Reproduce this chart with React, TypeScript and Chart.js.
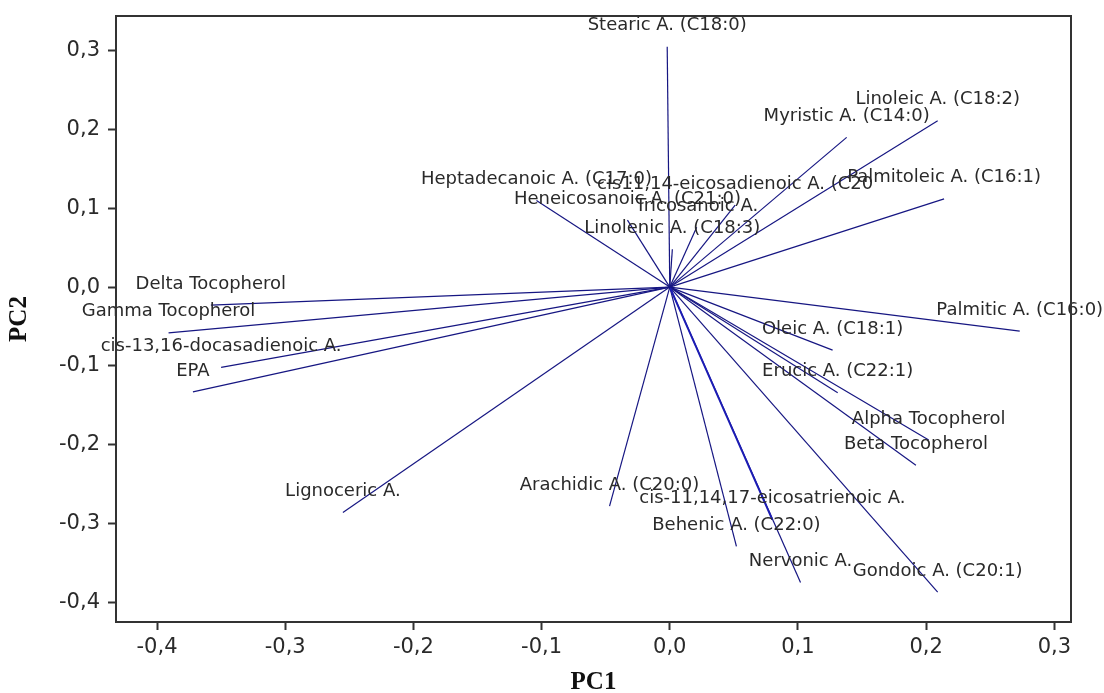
import React, { useEffect, useRef } from "react";
import { Chart, registerables } from "chart.js";

Chart.register(...registerables);

// Variable names (loadings), PC1 and PC2 values
const variables: string[] = [
  "Stearic A. (C18:0)",
  "Myristic A. (C14:0)",
  "Linoleic A. (C18:2)",
  "Palmitoleic A. (C16:1)",
  "cis11,14-eicosadienoic A. (C20",
  "Tricosanoic A.",
  "Linolenic A. (C18:3)",
  "Heneicosanoic A. (C21:0)",
  "Heptadecanoic A. (C17:0)",
  "Delta Tocopherol",
  "Gamma Tocopherol",
  "cis-13,16-docasadienoic A.",
  "EPA",
  "Lignoceric A.",
  "Arachidic A. (C20:0)",
  "cis-11,14,17-eicosatrienoic A.",
  "Behenic A. (C22:0)",
  "Nervonic A.",
  "Gondoic A. (C20:1)",
  "Beta Tocopherol",
  "Alpha Tocopherol",
  "Erucic A. (C22:1)",
  "Oleic A. (C18:1)",
  "Palmitic A. (C16:0)",
];

const pc1: number[] = [
  -0.002, 0.138, 0.209, 0.214, 0.051, 0.021, 0.002, -0.033, -0.104,
  -0.358, -0.391, -0.35, -0.372, -0.255, -0.047, 0.08, 0.052, 0.102,
  0.209, 0.192, 0.202, 0.131, 0.127, 0.273,
];

const pc2: number[] = [
  0.305, 0.19, 0.211, 0.112, 0.104, 0.076, 0.048, 0.085, 0.11,
  -0.023, -0.058, -0.102, -0.133, -0.286, -0.278, -0.295, -0.329, -0.375,
  -0.387, -0.226, -0.194, -0.134, -0.08, -0.056,
];

const xTicks: number[] = [-0.4, -0.3, -0.2, -0.1, 0.0, 0.1, 0.2, 0.3];
const yTicks: number[] = [-0.4, -0.3, -0.2, -0.1, 0.0, 0.1, 0.2, 0.3];

const X_MIN = -0.432;
const X_MAX = 0.313;
const Y_MIN = -0.425;
const Y_MAX = 0.344;

const LINE_COLOR = "rgb(22,22,130)";
const TEXT_COLOR = "#2a2a2a";
const EMPHASIZED = "cis-11,14,17-eicosatrienoic A.";

const fmt = (v: number) => {
  const r = Math.abs(v) < 1e-9 ? 0 : v;
  return r.toFixed(1).replace(".", ",");
};

const labelPlugin = {
  id: "loadingLabels",
  afterDatasetsDraw(chart: any) {
    const { ctx, scales } = chart;
    const xs = scales.x;
    const ys = scales.y;
    ctx.save();
    ctx.font = "18px 'DejaVu Sans'";
    ctx.fillStyle = TEXT_COLOR;
    ctx.textAlign = "center";
    ctx.textBaseline = "middle";
    variables.forEach((name, i) => {
      const px = xs.getPixelForValue(pc1[i]);
      const py = ys.getPixelForValue(pc2[i]);
      ctx.fillText(name, px, py - 21);
    });
    ctx.restore();
  },
};

const framePlugin = {
  id: "frame",
  afterDraw(chart: any) {
    const { ctx, chartArea } = chart;
    ctx.save();
    ctx.strokeStyle = "#333";
    ctx.lineWidth = 2;
    ctx.strokeRect(
      chartArea.left,
      chartArea.top,
      chartArea.right - chartArea.left,
      chartArea.bottom - chartArea.top
    );
    ctx.restore();
  },
};

export default function App() {
  const canvasRef = useRef<HTMLCanvasElement | null>(null);

  useEffect(() => {
    if (!canvasRef.current) return;
    const datasets = variables.map((name, i) => ({
      label: name,
      data: [
        { x: 0, y: 0 },
        { x: pc1[i], y: pc2[i] },
      ],
      showLine: true,
      borderColor: name === EMPHASIZED ? "rgb(28,28,180)" : LINE_COLOR,
      borderWidth: name === EMPHASIZED ? 2 : 1.2,
      pointRadius: 0,
      pointHoverRadius: 0,
    }));

    const chart = new Chart(canvasRef.current, {
      type: "scatter",
      data: { datasets },
      plugins: [labelPlugin, framePlugin],
      options: {
        animation: false,
        responsive: false,
        devicePixelRatio: 1,
        layout: { padding: { left: 0, top: 16, right: 33, bottom: 0 } },
        plugins: {
          legend: { display: false },
          tooltip: { enabled: false },
        },
        scales: {
          x: {
            type: "linear",
            min: X_MIN,
            max: X_MAX,
            afterBuildTicks: (scale: any) => {
              scale.ticks = xTicks.map((v) => ({ value: v }));
            },
            afterFit: (scale: any) => {
              scale.height = 71;
              scale.paddingLeft = 0;
              scale.paddingRight = 0;
            },
            grid: {
              display: true,
              drawOnChartArea: false,
              drawTicks: true,
              tickLength: 8,
              tickColor: "#333",
              tickWidth: 2,
            },
            border: { display: true, color: "#333", width: 2 },
            ticks: {
              padding: 5,
              color: TEXT_COLOR,
              font: { family: "'DejaVu Sans'", size: 21 },
              callback: (v: any) => fmt(Number(v)),
              maxRotation: 0,
              autoSkip: false,
            },
            title: {
              display: true,
              text: "PC1",
              color: "#111",
              font: { family: "'Liberation Serif'", size: 25, weight: "bold", lineHeight: 0.8 },
              padding: { top: 0, bottom: 0 },
            },
          },
          y: {
            type: "linear",
            min: Y_MIN,
            max: Y_MAX,
            afterBuildTicks: (scale: any) => {
              scale.ticks = yTicks.map((v) => ({ value: v }));
            },
            afterFit: (scale: any) => {
              scale.width = 116;
              scale.paddingTop = 0;
              scale.paddingBottom = 0;
            },
            grid: {
              display: true,
              drawOnChartArea: false,
              drawTicks: true,
              tickLength: 8,
              tickColor: "#333",
              tickWidth: 2,
            },
            border: { display: true, color: "#333", width: 2 },
            ticks: {
              padding: 8,
              color: TEXT_COLOR,
              font: { family: "'DejaVu Sans'", size: 21 },
              callback: (v: any) => fmt(Number(v)),
              autoSkip: false,
            },
            title: {
              display: true,
              text: "PC2",
              color: "#111",
              font: { family: "'Liberation Serif'", size: 25, weight: "bold", lineHeight: 0.8 },
              padding: { top: 10, bottom: 0 },
            },
          },
        },
      },
    } as any);

    return () => chart.destroy();
  }, []);

  return (
    <div
      style={{
        position: "absolute",
        left: 0,
        top: 0,
        width: 1104,
        height: 693,
        background: "#fff",
      }}
    >
      <canvas ref={canvasRef} width={1104} height={693} />
    </div>
  );
}
